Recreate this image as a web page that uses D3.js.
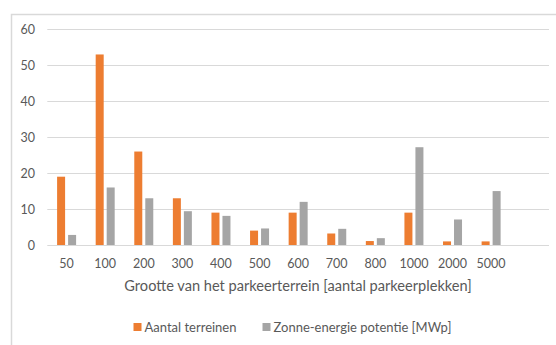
<!DOCTYPE html>
<html><head><meta charset="utf-8">
<script src="https://cdn.jsdelivr.net/npm/d3@7"></script>
<style>body{margin:0;background:#fff}svg{display:block}</style>
</head><body>
<script>
const categories = ["50","100","200","300","400","500","600","700","800","1000","2000","5000",""];
const aantalTerreinen = [19,53,26,13,9,4,9,3.2,1.1,9,1,1,null];
const zonneEnergie = [2.8,16,13,9.4,8.1,4.6,12,4.5,1.9,27.2,7.1,15,null];
const yTicks = [0,10,20,30,40,50,60];
const seriesNames = ["Aantal terreinen","Zonne-energie potentie [MWp]"];
const colors = ["#ed7d31","#a5a5a5"];
const font = "Lato, 'Open Sans', sans-serif";

const W = 556, H = 345;
const svg = d3.select("body").append("svg").attr("width", W).attr("height", H);

// chart border (top and left visible)
svg.append("path").attr("d", "M11.5,345 V14.5 H556").attr("fill","none").attr("stroke","#d9d9d9").attr("stroke-width",1.5);

const x = d3.scaleBand().domain(categories).range([47.3, 549]).paddingInner(0).paddingOuter(0);
const y = d3.scaleLinear().domain([0,60]).range([245, 29.3]);

// gridlines
svg.append("g").selectAll("line").data(yTicks).join("line")
  .attr("x1", 47.3).attr("x2", 549)
  .attr("y1", d => Math.round(y(d))+0.5).attr("y2", d => Math.round(y(d))+0.5)
  .attr("stroke", "#d9d9d9").attr("stroke-width", 1);

// y axis labels
const yAxis = d3.axisLeft(y).tickValues(yTicks).tickSize(0).tickPadding(0);
const gy = svg.append("g").attr("transform","translate(35,0)").call(yAxis);
gy.select(".domain").remove();
gy.selectAll("text").attr("font-family", font).attr("font-size", 12.5).attr("fill", "#595959");

// x axis labels
const xAxis = d3.axisBottom(x).tickSize(0).tickPadding(0);
const gx = svg.append("g").attr("transform","translate(0,259)").call(xAxis);
gx.select(".domain").remove();
gx.selectAll("text").attr("font-family", font).attr("font-size", 12.5).attr("fill", "#595959");

const bw = 8, gap = 3;
const data = categories.map((c,i) => ({c, a: aantalTerreinen[i], z: zonneEnergie[i]}));
const g = svg.append("g");
g.selectAll("rect.a").data(data.filter(d => d.a != null)).join("rect").attr("class","a")
  .attr("x", d => x(d.c) + x.bandwidth()/2 - gap/2 - bw)
  .attr("width", bw)
  .attr("y", d => y(d.a)).attr("height", d => y(0) - y(d.a))
  .attr("fill", colors[0]);
g.selectAll("rect.z").data(data.filter(d => d.z != null)).join("rect").attr("class","z")
  .attr("x", d => x(d.c) + x.bandwidth()/2 + gap/2)
  .attr("width", bw)
  .attr("y", d => y(d.z)).attr("height", d => y(0) - y(d.z))
  .attr("fill", colors[1]);

// axis title
svg.append("text").attr("x", 298).attr("y", 291).attr("text-anchor","middle")
  .attr("font-family", font).attr("font-size", 14.6).attr("fill", "#595959")
  .text("Grootte van het parkeerterrein [aantal parkeerplekken]");

// legend
const legX = [133.5, 262.5];
const leg = svg.append("g");
seriesNames.forEach((n,i) => {
  leg.append("rect").attr("x", legX[i]).attr("y", 323).attr("width", 8).attr("height", 8).attr("fill", colors[i]);
  leg.append("text").attr("x", legX[i] + 11).attr("y", 331.5)
    .attr("font-family", font).attr("font-size", 13).attr("fill", "#595959").text(n);
});
</script>
</body></html>
